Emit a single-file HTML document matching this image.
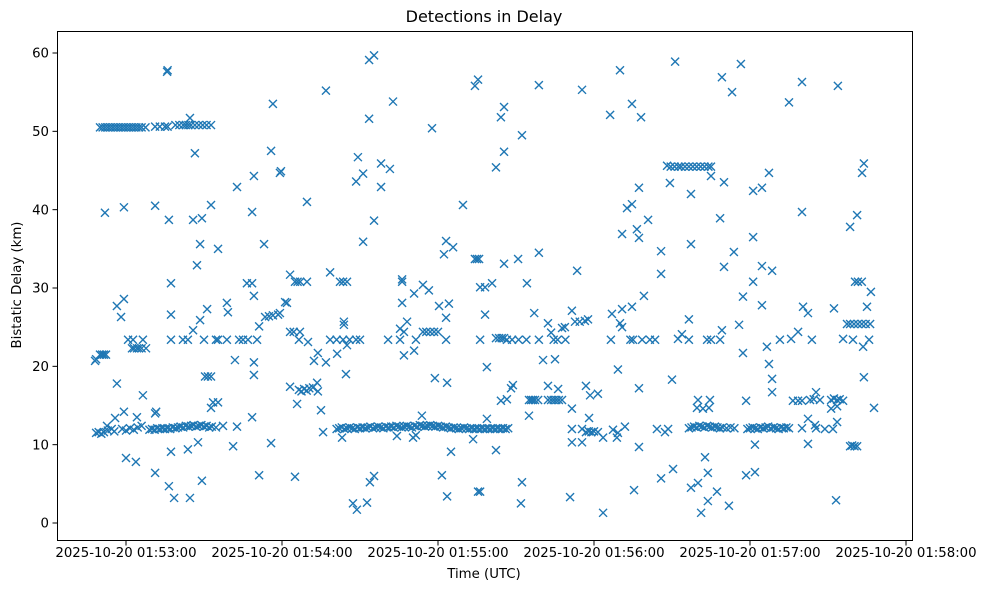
<!DOCTYPE html>
<html><head><meta charset="utf-8"><style>
html,body{margin:0;padding:0;background:#fff;}
svg text{font-family:"DejaVu Sans","Liberation Sans",sans-serif;fill:#000;}
</style></head><body>
<svg id="chart" width="989" height="590" viewBox="0 0 989 590" xmlns="http://www.w3.org/2000/svg">
<rect width="989" height="590" fill="#fff"/>
<text x="484" y="22" font-size="16" text-anchor="middle">Detections in Delay</text>
<text x="484" y="578" font-size="13.3" text-anchor="middle">Time (UTC)</text>
<text x="21" y="285" font-size="13.3" text-anchor="middle" transform="rotate(-90 21 285)">Bistatic Delay (km)</text>
<g id="marks"></g>
<g id="axes"></g>
<rect x="57.5" y="31.5" width="855" height="509" fill="none" stroke="#000" stroke-width="1"/>
</svg>
<script>
// seconds after 2025-10-20 01:52:00 UTC
const times = [
75.8,76.0,116.5,84.6,86.5,115.8,119.2,119.6,102.7,109.2,
51.9,59.2,71.2,76.5,85.8,89.2,92.7,108.5,88.5,95.4,
113.1,87.3,77.3,106.5,108.5,109.2,56.5,59.2,58.1,77.3,
91.2,88.5,98.8,99.2,85.8,113.5,115,116.5,118.5,121.2,
111.2,48.1,48.5,50,50.8,51.5,52.3,101.9,109.2,109.2,
90.4,91.5,92.7,56.5,66.5,93.5,95.4,92.7,59.2,64.2,
55.8,71.2,71.6,52.7,108.5,77.3,83.8,87.7,101.2,115.8,
60,63.8,71.2,111.2,89.2,76.5,78.5,84.6,94.6,97.3,
102.7,
50,51,52,53,54,55,56,57,58,59,
60,61,62,63,64,65,66,67.5,71.2,73,
75,76,79,80.5,82,83,84,85,86.5,88,
89.5,91,92.7,
60.8,62.7,66.5,77.3,81.9,83.8,90,94.6,95.4,98.8,
103.5,105,106.9,110.4,
62.3,63.1,64.2,65,66,67.7,
48.5,49.5,50.5,51.5,53,54.5,55.5,58.5,60,61.5,
63,64.5,66,69,70,71,72,73,74,75,
76,77,78,79,80,81,82,83,84,85,
86,87,88,89,90,91,92,93,
153.5,155.4,136.9,194.2,195.4,162.7,153.5,177.7,149.2,158.1,
161.5,148.5,151.2,158.1,129.6,189.6,155.4,151.2,183.1,185.8,
182.3,194.2,195,195.8,123.1,125,126,127,129.6,138.5,
142.3,143.5,145,166.2,166.2,174.2,176.5,170.8,196.2,121.9,
119.2,166.2,180.4,184.2,183.1,143.8,143.8,168.1,165.4,166.9,
174.2,175.5,177,178.5,180,123.1,124.5,126.9,126.5,130,
138.5,141,143.5,146,148.5,150,160.8,165.4,171.5,183.1,
196.2,
145,141.2,133.8,132.3,136.9,166.9,170.8,144.6,178.8,183.5,
123.1,126.5,127.5,128.5,129.5,130.5,131.9,133.5,133.8,125.8,
135,135.8,173.8,143.1,164.2,170.4,171.5,193.5,185,125,
153.8,155.4,181.5,183.5,195.4,147.3,148.8,152.7,
141,142,143,144,145,146,147,148,149,150,
151,152,153,154,155,156,157,158,159,160,
161,162,163,164,165,166,167,168,169,170,
171,172,173,174,175,176,177,178,179,180,
181,182,183,184,185,186,187,188,189,190,
191,192,193,194,195,196,197,198,199,200,
201,202,203,204,205,206,207,
218.8,235.4,250,271.2,205.4,204.2,246.2,254.6,258.1,212.3,
205.4,202.3,268.1,269.2,257.3,252.7,254.6,260.8,250.8,256.5,
257.3,265.8,265.8,205.4,210.8,218.8,233.5,198.1,200.8,214.2,
259.2,198.1,217,231.5,222.3,246.9,250.8,254.6,250,250.8,
223.5,227.7,228.8,232.7,234.5,236.5,237.7,220.4,225,198.8,
249.2,270,208.1,208.8,222.3,226.2,236.9,238.5,241.5,257.3,
204.2,206.5,215,215.8,216.5,217.3,218.5,222.3,223.5,224.5,
225.5,226.5,227.7,198.8,215,231.5,238.1,231.5,235.4,236.9,
238,239,240,241.5,243.5,231.5,235.4,247.3,249.2,251.9,
248.8,264.2,267.3,268.5,202.3,257.3,212.3,196.2,211.9,230.8,
243.5,255.4,265.8,270.4,
202.3,203.5,204.5,205.4,206.5,208.5,211,214,218.8,224.5,
226,229,246.5,254,255,258.5,261.5,263.5,
296.5,289.2,293.1,320,333.8,315,285,277.3,290,307.3,
301.2,304.6,343.8,343.1,288.5,320,341.2,338.5,277.3,301.2,
293.8,290,304.6,308.5,301.2,297.3,304.6,340.4,341.5,343,
346.5,320.4,322.3,332.3,345,276.5,273.8,272.3,289.2,295.8,
283.5,285,288.5,276.5,337.3,338.5,340,341.5,343,344.5,
346.2,318.5,315.8,311.5,323.8,335.8,339.6,345.8,343.5,306.5,
297.3,307.3,308.5,308.5,343.8,280,284.6,279.6,281.9,284.2,
298.5,316.5,318.5,320,323.1,324.5,326.9,325.4,331.2,332.3,
333.5,334.5,335.8,331.2,333.5,347.7,320,322.3,325.4,328.8,
331.9,333.5,325,301.9,322.3,338.5,339.3,340.2,341.2,282.7,
283.8,298.5,301.9,280,277.3,287.3,283.8,291.9,281.2,333.1,
269.5,271,272.5,273.5,275,276.5,278,279.5,281,282.5,284,285,
276.5,277.5,278.5,279.5,280.5,281.5,282.5,283.5,284.5,285.5,
286.5,287.5,288.5,289.5,291,292.5,294,
299,300,301,302,303,304,305,306,307,308,
309,310,311,312,313,314,315
];
const delays = [
57.6,57.8,53.5,51.7,47.2,47.5,44.7,44.9,42.9,44.3,
39.6,40.3,40.5,38.7,38.7,38.9,40.6,39.7,35.6,35.0,
35.6,32.9,30.6,30.6,30.6,29.0,27.7,28.6,26.3,26.6,
27.3,25.9,28.1,26.9,24.6,26.3,26.4,26.5,26.6,28.2,
25.1,20.7,20.9,21.5,21.5,21.5,21.5,20.8,20.5,18.9,
18.7,18.7,18.7,17.8,16.3,15.4,15.4,14.7,14.2,13.5,
13.4,14.0,14.2,12.4,13.5,9.1,9.4,10.3,9.8,10.2,
8.3,7.8,6.4,6.1,5.4,4.7,3.2,3.2,12.2,12.4,
12.3,
50.5,50.5,50.5,50.5,50.5,50.5,50.5,50.5,50.5,50.5,
50.5,50.5,50.5,50.5,50.5,50.5,50.5,50.5,50.6,50.6,
50.6,50.6,50.8,50.8,50.8,50.8,50.8,50.8,50.8,50.8,
50.8,50.8,50.8,
23.4,23.4,23.4,23.4,23.4,23.4,23.4,23.4,23.4,23.4,
23.4,23.4,23.4,23.4,
22.3,22.3,22.3,22.3,22.3,22.3,
11.5,11.6,11.4,11.6,11.8,12.0,11.7,12.0,11.8,12.1,
11.9,12.2,12.4,11.9,12.0,11.9,12.1,12.0,12.1,12.0,
12.1,12.0,12.2,12.1,12.2,12.3,12.2,12.4,12.3,12.4,
12.5,12.3,12.4,12.5,12.3,12.4,12.2,12.3,
59.1,59.7,55.2,55.8,56.6,53.8,51.6,50.4,46.7,45.9,
45.2,43.6,44.6,42.9,41.0,40.6,38.6,35.9,36.0,35.2,
34.3,33.7,33.7,33.7,31.7,30.8,30.8,30.8,30.8,32.0,
30.8,30.8,30.8,30.8,31.1,30.4,29.7,29.3,30.1,28.1,
26.8,28.1,27.7,28.0,26.2,25.7,25.3,25.7,24.8,24.4,
24.4,24.4,24.4,24.4,24.4,24.4,24.4,24.4,23.4,23.1,
23.4,23.4,23.4,23.4,23.4,23.4,23.4,23.4,23.4,23.4,
23.4,
22.7,21.6,21.7,20.7,20.5,21.4,22.0,19.0,18.5,17.9,
17.4,17.0,16.8,17.1,16.9,17.2,17.3,17.9,16.8,15.2,
14.4,11.6,13.7,10.9,11.1,10.9,11.2,10.7,9.1,5.9,
5.2,6.0,6.1,3.4,4.0,2.5,1.7,2.6,
12.0,12.1,12.2,12.0,12.1,12.2,12.1,12.0,12.2,12.1,
12.2,12.1,12.2,12.3,12.1,12.2,12.3,12.2,12.1,12.3,
12.2,12.3,12.2,12.4,12.3,12.2,12.3,12.4,12.3,12.2,
12.4,12.3,12.5,12.4,12.3,12.4,12.5,12.4,12.3,12.4,
12.3,12.2,12.3,12.2,12.1,12.2,12.1,12.0,12.1,12.2,
12.1,12.0,12.1,12.0,12.1,12.0,12.1,12.0,12.1,12.0,
12.1,12.0,12.1,12.0,12.1,12.0,12.1,
55.9,55.3,57.8,58.9,53.1,51.8,52.1,53.5,51.8,49.5,
47.4,45.4,45.6,43.4,42.8,40.2,40.7,38.7,36.9,37.5,
36.4,34.7,31.8,33.1,33.7,34.5,32.2,30.1,30.6,30.6,
29.0,26.6,26.8,27.1,25.5,26.7,27.3,27.6,25.5,25.0,
24.3,24.9,25.0,25.7,25.7,25.8,26.0,20.8,20.9,19.9,
19.6,18.3,17.2,17.6,17.5,17.1,17.5,16.3,16.5,17.2,
15.6,15.8,15.7,15.7,15.7,15.7,15.7,15.7,15.7,15.7,
15.7,15.7,15.7,13.3,13.7,14.6,13.4,12.0,12.0,11.6,
11.7,11.6,11.7,11.6,10.9,10.3,10.3,11.9,11.5,12.3,
10.9,12.0,11.6,12.0,9.3,9.7,5.2,4.0,2.5,3.3,
1.3,4.2,5.7,6.9,
23.6,23.6,23.6,23.6,23.4,23.4,23.4,23.4,23.4,23.4,
23.4,23.4,23.4,23.4,23.4,23.4,23.4,23.4,
58.6,56.9,55.0,56.3,55.8,53.7,44.3,42.0,43.5,44.7,
42.4,42.8,45.9,44.7,38.9,39.7,39.3,37.8,35.6,36.5,
34.6,32.7,32.8,32.2,30.8,28.9,27.8,30.8,30.8,30.8,
29.5,27.6,26.8,27.4,27.6,26.0,24.1,23.5,24.6,25.3,
23.4,23.4,23.4,23.4,25.4,25.4,25.4,25.4,25.4,25.4,
25.4,24.4,23.5,23.4,23.4,23.5,23.4,23.4,22.5,22.5,
21.7,20.3,18.4,16.7,18.6,15.7,15.7,14.7,14.6,14.7,
15.6,15.6,15.6,15.6,15.7,15.8,15.7,16.7,15.7,15.9,
15.7,15.8,15.6,14.6,14.9,14.7,12.1,13.3,12.1,12.0,
12.0,12.9,12.5,10.0,10.1,9.8,9.9,9.8,9.8,8.4,
6.4,6.1,6.5,5.1,4.5,4.0,2.8,2.2,1.3,2.9,
45.5,45.5,45.5,45.5,45.5,45.5,45.5,45.5,45.5,45.5,45.5,45.5,
12.1,12.2,12.3,12.2,12.4,12.3,12.2,12.4,12.3,12.2,
12.3,12.2,12.1,12.2,12.1,12.2,12.1,
12.0,12.1,12.2,12.1,12.0,12.2,12.1,12.2,12.3,12.1,
12.2,12.1,12.0,12.2,12.1,12.2,12.1
];
const xTickValues = [60, 120, 180, 240, 300, 360];
const xTickLabels = ["2025-10-20 01:53:00","2025-10-20 01:54:00","2025-10-20 01:55:00","2025-10-20 01:56:00","2025-10-20 01:57:00","2025-10-20 01:58:00"];
const yTickValues = [0, 10, 20, 30, 40, 50, 60];

const NS = "http://www.w3.org/2000/svg";
function xScale(t){ return 126 + (t - 60) * 2.6; }
function yScale(v){ return 523 - v * (470 / 60); }

const marks = document.getElementById('marks');
const n = Math.min(times.length, delays.length);
for (let i = 0; i < n; i++) {
  const cx = xScale(times[i]), cy = yScale(delays[i]);
  const p = document.createElementNS(NS, 'path');
  p.setAttribute('d', `M${cx-4},${cy-4}L${cx+4},${cy+4}M${cx-4},${cy+4}L${cx+4},${cy-4}`);
  p.setAttribute('stroke', '#1f77b4');
  p.setAttribute('stroke-width', '1.4');
  p.setAttribute('fill', 'none');
  
  
  marks.appendChild(p);
}

const axes = document.getElementById('axes');
xTickValues.forEach((v, i) => {
  const x = xScale(v);
  const l = document.createElementNS(NS, 'line');
  l.setAttribute('x1', x); l.setAttribute('x2', x);
  l.setAttribute('y1', 540.5); l.setAttribute('y2', 545.5);
  l.setAttribute('stroke', '#000');
  
  
  axes.appendChild(l);
  const t = document.createElementNS(NS, 'text');
  t.setAttribute('x', x); t.setAttribute('y', 557);
  t.setAttribute('font-size', '13.3');
  t.setAttribute('text-anchor', 'middle');
  t.textContent = xTickLabels[i];
  
  
  axes.appendChild(t);
});
yTickValues.forEach(v => {
  const y = yScale(v);
  const l = document.createElementNS(NS, 'line');
  l.setAttribute('x1', 52.5); l.setAttribute('x2', 57.5);
  l.setAttribute('y1', y); l.setAttribute('y2', y);
  l.setAttribute('stroke', '#000');
  
  
  axes.appendChild(l);
  const t = document.createElementNS(NS, 'text');
  t.setAttribute('x', 49); t.setAttribute('y', y + 4.7);
  t.setAttribute('font-size', '13.3');
  t.setAttribute('text-anchor', 'end');
  t.textContent = String(v);
  
  
  axes.appendChild(t);
});
</script>
</body></html>
